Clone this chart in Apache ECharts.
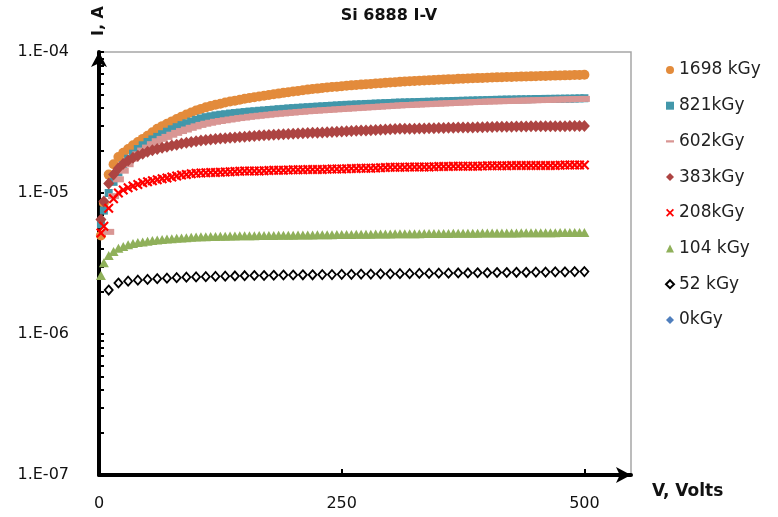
<!DOCTYPE html>
<html>
<head>
<meta charset="utf-8">
<title>Si 6888 I-V</title>
<script src="https://cdn.jsdelivr.net/npm/echarts@6/dist/echarts.min.js"></script>
<style>
html, body { margin: 0; padding: 0; background: #fff; }
#main { width: 778px; height: 517px; }
</style>
</head>
<body>
<div id="main"></div>
<script>
// bias voltage, V (fine sweep for most samples)
const voltsFine = [2, 5, 10, 15, 20, 25, 30, 35, 40, 45, 50,
  55, 60, 65, 70, 75, 80, 85, 90, 95, 100,
  105, 110, 115, 120, 125, 130, 135, 140, 145, 150,
  155, 160, 165, 170, 175, 180, 185, 190, 195, 200,
  205, 210, 215, 220, 225, 230, 235, 240, 245, 250,
  255, 260, 265, 270, 275, 280, 285, 290, 295, 300,
  305, 310, 315, 320, 325, 330, 335, 340, 345, 350,
  355, 360, 365, 370, 375, 380, 385, 390, 395, 400,
  405, 410, 415, 420, 425, 430, 435, 440, 445, 450,
  455, 460, 465, 470, 475, 480, 485, 490, 495, 500];
// coarser sweep used for the 52 kGy sample
const voltsCoarse = [10, 20, 30, 40, 50, 60, 70, 80, 90, 100,
  110, 120, 130, 140, 150, 160, 170, 180, 190, 200,
  210, 220, 230, 240, 250, 260, 270, 280, 290, 300,
  310, 320, 330, 340, 350, 360, 370, 380, 390, 400,
  410, 420, 430, 440, 450, 460, 470, 480, 490, 500];

// leakage current, uA
const kgy1698 = [5.0, 8.5, 13.5, 16, 18, 19.3, 20.5, 21.8, 23, 24.2, 25.5,
  27, 28.5, 29.8, 31, 32.2, 33.5, 34.8, 36, 37.2, 38.5,
  39.5, 40.5, 41.4, 42.2, 43, 43.8, 44.5, 45.2, 45.9, 46.6,
  47.2, 47.8, 48.4, 49, 49.6, 50.2, 50.7, 51.3, 51.9, 52.5,
  53, 53.6, 54.1, 54.6, 55, 55.5, 56, 56.4, 56.8, 57.2,
  57.6, 58, 58.3, 58.7, 59, 59.4, 59.7, 60.1, 60.4, 60.8,
  61.1, 61.4, 61.7, 62, 62.2, 62.5, 62.7, 63, 63.2, 63.5,
  63.7, 64, 64.2, 64.5, 64.7, 64.9, 65.1, 65.3, 65.5, 65.7,
  65.9, 66.1, 66.2, 66.4, 66.6, 66.8, 66.9, 67.1, 67.2, 67.4,
  67.5, 67.7, 67.8, 68, 68.1, 68.3, 68.4, 68.6, 68.8, 69];
const kgy821 = [6, 7.5, 10, 12, 14, 15.8, 17.5, 19, 20.5, 21.8, 23,
  24, 25, 26.1, 27.2, 28.3, 29.3, 30.3, 31.2, 32.1, 33,
  33.8, 34.5, 35, 35.5, 35.9, 36.2, 36.6, 36.9, 37.2, 37.5,
  37.8, 38, 38.3, 38.5, 38.8, 39, 39.3, 39.5, 39.8, 40,
  40.2, 40.4, 40.6, 40.8, 41, 41.2, 41.4, 41.6, 41.8, 42,
  42.2, 42.3, 42.5, 42.6, 42.8, 42.9, 43.1, 43.2, 43.4, 43.5,
  43.7, 43.8, 43.9, 44, 44.1, 44.2, 44.3, 44.4, 44.5, 44.6,
  44.7, 44.8, 44.9, 45, 45.1, 45.2, 45.3, 45.4, 45.5, 45.6,
  45.7, 45.8, 45.9, 46, 46, 46.1, 46.2, 46.2, 46.3, 46.4,
  46.4, 46.5, 46.5, 46.6, 46.6, 46.7, 46.7, 46.8, 46.9, 47];
const kgy602 = [null, null, 5.3, 9.5, 12.5, 14.4, 16, 17.5, 18.8, 20, 21,
  22.2, 23.3, 24.2, 25, 25.9, 26.7, 27.5, 28.2, 29, 29.7,
  30.4, 31, 31.5, 32, 32.4, 32.8, 33.2, 33.6, 34, 34.3,
  34.7, 35, 35.3, 35.6, 35.9, 36.2, 36.5, 36.7, 37, 37.2,
  37.5, 37.7, 38, 38.2, 38.4, 38.6, 38.8, 39, 39.2, 39.4,
  39.6, 39.8, 40, 40.2, 40.4, 40.6, 40.8, 41, 41.2, 41.4,
  41.6, 41.8, 42, 42.1, 42.3, 42.4, 42.6, 42.7, 42.9, 43,
  43.2, 43.3, 43.5, 43.6, 43.8, 43.9, 44.1, 44.2, 44.4, 44.5,
  44.6, 44.7, 44.8, 44.9, 45, 45.1, 45.2, 45.3, 45.4, 45.5,
  45.6, 45.7, 45.8, 45.9, 46, 46.1, 46.2, 46.3, 46.4, 46.5];
const kgy383 = [6.5, 8.7, 11.7, 13.5, 15, 16.1, 17, 17.8, 18.4, 19, 19.6,
  20.1, 20.5, 20.9, 21.3, 21.7, 22, 22.4, 22.7, 23, 23.3,
  23.6, 23.8, 24, 24.2, 24.4, 24.5, 24.7, 24.8, 25, 25.1,
  25.3, 25.4, 25.6, 25.7, 25.8, 25.9, 26, 26.1, 26.2, 26.3,
  26.4, 26.5, 26.6, 26.7, 26.8, 26.9, 27, 27.1, 27.2, 27.3,
  27.4, 27.5, 27.6, 27.7, 27.8, 27.9, 28, 28.1, 28.2, 28.3,
  28.4, 28.5, 28.5, 28.6, 28.6, 28.7, 28.7, 28.8, 28.8, 28.9,
  28.9, 29, 29, 29.1, 29.1, 29.2, 29.2, 29.3, 29.3, 29.4,
  29.4, 29.5, 29.5, 29.5, 29.5, 29.6, 29.6, 29.6, 29.7, 29.7,
  29.7, 29.7, 29.8, 29.8, 29.8, 29.8, 29.9, 29.9, 29.9, 29.9];
const kgy208 = [5.2, 5.8, 7.8, 9.1, 10, 10.5, 10.9, 11.2, 11.5, 11.8, 12,
  12.2, 12.4, 12.6, 12.8, 13, 13.2, 13.4, 13.5, 13.7, 13.8,
  13.85, 13.9, 13.95, 14, 14.05, 14.1, 14.15, 14.2, 14.25, 14.3,
  14.3, 14.3, 14.35, 14.4, 14.45, 14.5, 14.5, 14.5, 14.55, 14.6,
  14.6, 14.6, 14.65, 14.7, 14.7, 14.7, 14.75, 14.8, 14.8, 14.8,
  14.85, 14.9, 14.95, 15, 15, 15, 15.05, 15.1, 15.15, 15.2,
  15.2, 15.2, 15.25, 15.3, 15.3, 15.3, 15.3, 15.3, 15.35, 15.4,
  15.4, 15.4, 15.45, 15.5, 15.5, 15.5, 15.5, 15.5, 15.55, 15.6,
  15.6, 15.6, 15.6, 15.6, 15.65, 15.7, 15.7, 15.7, 15.7, 15.7,
  15.7, 15.7, 15.7, 15.7, 15.75, 15.8, 15.8, 15.8, 15.8, 15.8];
const kgy104 = [2.6, 3.2, 3.6, 3.85, 4.05, 4.18, 4.3, 4.38, 4.45, 4.5, 4.55,
  4.6, 4.64, 4.68, 4.71, 4.74, 4.77, 4.8, 4.82, 4.85, 4.87,
  4.89, 4.9, 4.91, 4.92, 4.93, 4.94, 4.95, 4.96, 4.97, 4.97,
  4.98, 4.98, 4.99, 4.99, 5.0, 5.0, 5.01, 5.01, 5.02, 5.02,
  5.03, 5.03, 5.04, 5.04, 5.05, 5.05, 5.06, 5.06, 5.07, 5.07,
  5.08, 5.08, 5.09, 5.09, 5.1, 5.1, 5.11, 5.11, 5.12, 5.12,
  5.13, 5.13, 5.14, 5.14, 5.15, 5.15, 5.16, 5.16, 5.16, 5.16,
  5.17, 5.17, 5.18, 5.18, 5.18, 5.18, 5.19, 5.19, 5.2, 5.2,
  5.2, 5.2, 5.21, 5.21, 5.21, 5.21, 5.22, 5.22, 5.22, 5.22,
  5.23, 5.23, 5.23, 5.23, 5.24, 5.24, 5.24, 5.24, 5.25, 5.25];
const kgy52 = [2.05, 2.3, 2.37, 2.41, 2.44, 2.47, 2.49, 2.51, 2.53, 2.54,
  2.55, 2.56, 2.57, 2.58, 2.59, 2.6, 2.6, 2.61, 2.62, 2.62,
  2.63, 2.63, 2.64, 2.64, 2.65, 2.65, 2.66, 2.66, 2.67, 2.67,
  2.68, 2.68, 2.69, 2.69, 2.7, 2.7, 2.71, 2.71, 2.72, 2.72,
  2.73, 2.73, 2.74, 2.74, 2.75, 2.75, 2.76, 2.76, 2.77, 2.77];
const kgy0 = [];

const xTicks = [0, 250, 500];
const yLabels = [1e-7, 1e-6, 1e-5, 1e-4];
const yTicks = [1e-7, 2e-7, 3e-7, 4e-7, 5e-7, 6e-7, 7e-7, 8e-7, 9e-7,
  1e-6, 2e-6, 3e-6, 4e-6, 5e-6, 6e-6, 7e-6, 8e-6, 9e-6,
  1e-5, 2e-5, 3e-5, 4e-5, 5e-5, 6e-5, 7e-5, 8e-5, 9e-5, 1e-4];

const crossPath = 'path://M0,1.5L1.5,0L5,3.5L8.5,0L10,1.5L6.5,5L10,8.5L8.5,10L5,6.5L1.5,10L0,8.5L3.5,5Z';
const dashPath = 'path://M0,3.5h10v3h-10z M0,0h0.01v0.01h-0.01z M0,10h0.01v0.01h-0.01z';

// uA -> A, paired with voltage
function toPoints(volts, arr) {
  return volts.map((v, i) => [v, arr[i] == null ? null : arr[i] * 1e-6])
              .filter(p => p[1] != null);
}

function mkSeries(name, volts, arr, symbol, size, style) {
  return {
    name: name,
    type: 'scatter',
    symbol: symbol,
    symbolSize: size,
    itemStyle: Object.assign({ opacity: 1 }, style),
    data: toPoints(volts, arr)
  };
}

const chart = echarts.init(document.getElementById('main'));
chart.setOption({
  animation: false,
  backgroundColor: '#fff',
  title: {
    text: 'Si 6888 I-V',
    left: 'center',
    top: 3,
    textStyle: { fontFamily: 'DejaVu Sans', fontSize: 16, fontWeight: 'bold', color: '#111' }
  },
  legend: {
    orient: 'vertical',
    left: 660,
    top: 55,
    itemWidth: 8,
    itemHeight: 8,
    itemGap: 15.7,
    textStyle: { fontFamily: 'DejaVu Sans', fontSize: 17, lineHeight: 20, color: '#222' },
    data: [
      { name: '1698 kGy', icon: 'circle' },
      { name: '821kGy', icon: 'rect' },
      { name: '602kGy', icon: dashPath },
      { name: '383kGy', icon: 'diamond' },
      { name: '208kGy', icon: crossPath },
      { name: '104 kGy', icon: 'triangle' },
      { name: '52 kGy', icon: 'diamond' },
      { name: '0kGy', icon: 'diamond' }
    ]
  },
  grid: {
    left: 99,
    right: 147,
    top: 52,
    bottom: 42,
    containLabel: false,
    show: true,
    borderColor: '#a6a6a6',
    borderWidth: 1.5
  },
  xAxis: {
    type: 'value',
    min: 0,
    max: 548,
    name: 'V, Volts',
    nameLocation: 'end',
    nameGap: 21,
    nameTextStyle: {
      fontFamily: 'DejaVu Sans', fontSize: 17, fontWeight: 'bold', color: '#111',
      align: 'left', verticalAlign: 'top', padding: [8, 0, 0, 0]
    },
    axisLine: {
      onZero: false,
      symbol: ['none', 'arrow'],
      symbolSize: [12, 15],
      lineStyle: { color: '#000', width: 4 }
    },
    axisTick: { inside: true, length: 6, customValues: xTicks, lineStyle: { color: '#000', width: 2 } },
    axisLabel: {
      customValues: xTicks,
      margin: 21,
      fontFamily: 'DejaVu Sans', fontSize: 16, color: '#111'
    },
    splitLine: { show: false }
  },
  yAxis: {
    type: 'log',
    logBase: 10,
    min: 1e-7,
    max: 1e-4,
    name: 'I, A',
    nameLocation: 'end',
    nameRotate: 90,
    nameGap: 16,
    nameTextStyle: { fontFamily: 'DejaVu Sans', fontSize: 16, fontWeight: 'bold', color: '#111' },
    axisLine: {
      onZero: false,
      symbol: ['none', 'arrow'],
      symbolSize: [12, 15],
      lineStyle: { color: '#000', width: 4 }
    },
    axisTick: { inside: true, length: 5, customValues: yTicks, lineStyle: { color: '#000', width: 2 } },
    axisLabel: {
      customValues: yLabels,
      margin: 30,
      fontFamily: 'DejaVu Sans', fontSize: 16, color: '#111',
      formatter: v => '1.E-0' + Math.abs(Math.round(Math.log10(v)))
    },
    splitLine: { show: false }
  },
  series: [
    mkSeries('1698 kGy', voltsFine, kgy1698, 'circle', 10, { color: '#e38b3b' }),
    mkSeries('821kGy', voltsFine, kgy821, 'rect', 8, { color: '#4297aa' }),
    mkSeries('602kGy', voltsFine, kgy602, 'rect', [11, 6], { color: '#d99694' }),
    mkSeries('383kGy', voltsFine, kgy383, 'diamond', [11, 12], { color: '#ad4442' }),
    mkSeries('208kGy', voltsFine, kgy208, crossPath, 10, { color: '#ff0000' }),
    mkSeries('104 kGy', voltsFine, kgy104, 'triangle', [10, 9], { color: '#8fb05a' }),
    mkSeries('52 kGy', voltsCoarse, kgy52, 'diamond', [8, 9], { color: '#fff', borderColor: '#000', borderWidth: 1.8 }),
    mkSeries('0kGy', voltsCoarse, kgy0, 'diamond', 9, { color: '#4f7fbd' })
  ]
});
</script>
</body>
</html>
